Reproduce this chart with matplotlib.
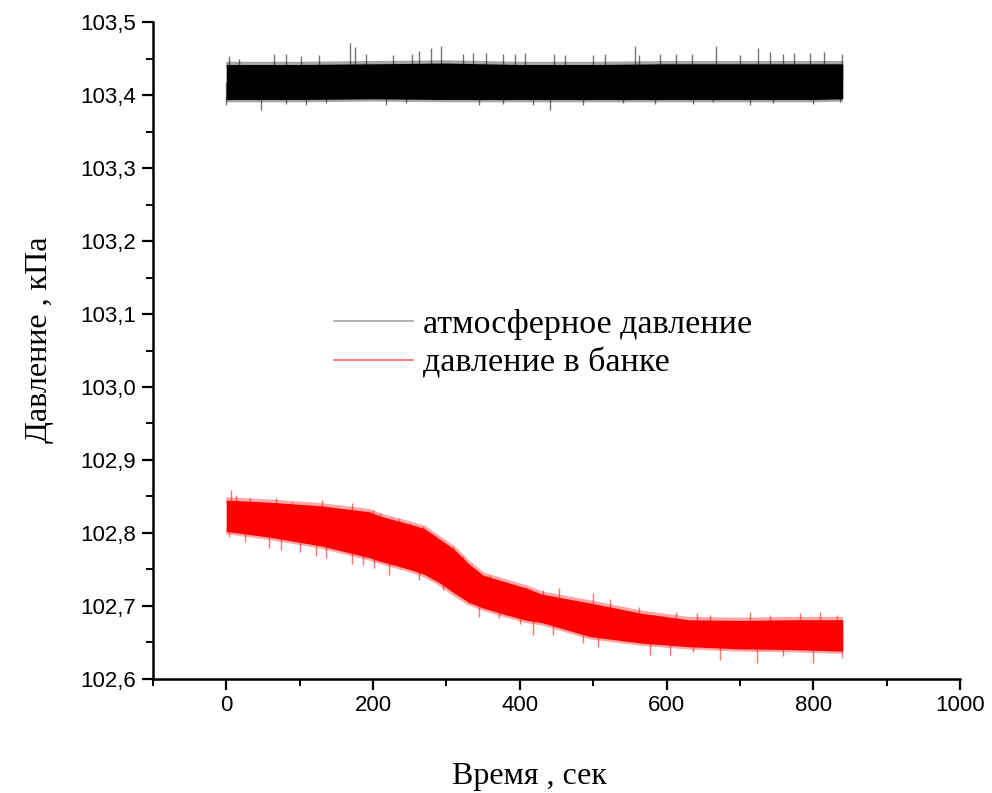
import numpy as np
import matplotlib.pyplot as plt
from matplotlib.lines import Line2D
from matplotlib.ticker import MultipleLocator, FuncFormatter

# atmospheric pressure: dense noise band (kPa) and its outstanding spikes
atm_t = [0, 100, 200, 300, 400, 500, 600, 700, 800, 840]
atm_upper = [103.442, 103.442, 103.443, 103.444, 103.442, 103.442, 103.443, 103.443, 103.443, 103.443]
atm_lower = [103.394, 103.394, 103.395, 103.394, 103.394, 103.394, 103.394, 103.394, 103.394, 103.395]

atm_spike_t = [4, 18, 65, 81, 102, 127, 169, 175, 191, 227, 253, 263, 279, 293, 322, 336,
               354, 377, 393, 407, 447, 461, 500, 516, 557, 563, 591, 613, 634, 667, 700,
               725, 741, 759, 773, 795, 814, 839,
               0, 47, 81, 109, 136, 218, 245, 345, 377, 418, 441, 486, 541, 584, 636,
               663, 713, 745, 800, 836]
atm_spike_v = [103.453, 103.450, 103.457, 103.456, 103.453, 103.455, 103.471, 103.466, 103.457,
               103.455, 103.457, 103.461, 103.464, 103.468, 103.457, 103.458, 103.458, 103.457,
               103.456, 103.458, 103.456, 103.455, 103.455, 103.457, 103.468, 103.455, 103.456,
               103.457, 103.456, 103.468, 103.455, 103.465, 103.459, 103.457, 103.458, 103.458,
               103.459, 103.457,
               103.386, 103.379, 103.388, 103.386, 103.389, 103.386, 103.389, 103.386, 103.388,
               103.386, 103.379, 103.386, 103.389, 103.388, 103.388, 103.391, 103.386, 103.389,
               103.388, 103.390]

# pressure in the jar
jar_t = [0, 60, 130, 195, 210, 250, 270, 290, 310, 330, 350, 380, 410, 430, 495, 565, 630,
         700, 770, 840]
jar_upper = [102.845, 102.842, 102.837, 102.829, 102.823, 102.812, 102.806, 102.792, 102.778,
             102.758, 102.742, 102.733, 102.724, 102.716, 102.704, 102.690, 102.681, 102.680,
             102.681, 102.681]
jar_lower = [102.802, 102.794, 102.782, 102.766, 102.761, 102.750, 102.743, 102.732, 102.718,
             102.705, 102.697, 102.688, 102.680, 102.677, 102.658, 102.649, 102.644, 102.641,
             102.640, 102.638]

jar_spike_t = [6, 13, 32, 68, 90, 131, 172, 200, 209, 236, 250, 268, 286, 309, 322, 359, 391,
               409, 432, 454, 500, 523, 563, 613, 641, 659, 713, 741, 782, 809, 832,
               4, 25, 59, 75, 100, 122, 136, 172, 186, 202, 222, 263, 295, 331, 345, 372,
               400, 418, 445, 486, 507, 577, 604, 636, 673, 723, 759, 800, 839]
jar_spike_v = [102.859, 102.852, 102.848, 102.848, 102.843, 102.845, 102.841, 102.832, 102.827,
               102.820, 102.813, 102.809, 102.795, 102.782, 102.768, 102.742, 102.730, 102.726,
               102.722, 102.724, 102.717, 102.709, 102.698, 102.692, 102.690, 102.688, 102.692,
               102.688, 102.690, 102.691, 102.688,
               102.795, 102.788, 102.779, 102.777, 102.774, 102.768, 102.765, 102.758, 102.756,
               102.752, 102.742, 102.736, 102.722, 102.704, 102.685, 102.683, 102.675, 102.660,
               102.660, 102.649, 102.644, 102.633, 102.633, 102.637, 102.626, 102.622, 102.631,
               102.622, 102.628]

labels = ['атмосферное давление', 'давление в банке']
colors = ['black', 'red']

fig = plt.figure(figsize=(9.92, 7.93), dpi=100)
ax = fig.add_axes([0.154, 0.144, 0.814, 0.828])


def draw_trace(t, upper, lower, spike_t, spike_v, color):
    # soft fringe along both edges of the noise band
    ax.plot(t, upper, color=color, lw=4, alpha=0.35, solid_capstyle='butt')
    ax.plot(t, lower, color=color, lw=4, alpha=0.35, solid_capstyle='butt')
    ax.fill_between(t, lower, upper, color=color, lw=0)
    mid = (np.array(upper) + np.array(lower)) / 2
    base = np.interp(spike_t, t, mid)
    ax.vlines(spike_t, base, spike_v, color=color, lw=1.0, alpha=0.55)


draw_trace(atm_t, atm_upper, atm_lower, atm_spike_t, atm_spike_v, colors[0])
draw_trace(jar_t, jar_upper, jar_lower, jar_spike_t, jar_spike_v, colors[1])

ax.set_xlim(-100, 1000)
ax.set_ylim(102.6, 103.5)
ax.xaxis.set_major_locator(MultipleLocator(200))
ax.xaxis.set_minor_locator(MultipleLocator(100))
ax.yaxis.set_major_locator(MultipleLocator(0.1))
ax.yaxis.set_minor_locator(MultipleLocator(0.05))
ax.yaxis.set_major_formatter(FuncFormatter(lambda v, p: f'{v:.1f}'.replace('.', ',')))

for side in ['top', 'right']:
    ax.spines[side].set_visible(False)
for side in ['left', 'bottom']:
    ax.spines[side].set_linewidth(1.8)

ax.tick_params(which='major', direction='out', length=8, width=1.6, labelsize=16, pad=4)
ax.tick_params(which='minor', direction='out', length=5, width=1.4)
for lbl in ax.get_xticklabels() + ax.get_yticklabels():
    lbl.set_family('Liberation Sans')

ax.set_xlabel('Время , сек', family='Liberation Serif', fontsize=23)
ax.set_ylabel('Давление , кПа', family='Liberation Serif', fontsize=23)
ax.xaxis.set_label_coords(0.467, -0.126)
ax.yaxis.set_label_coords(-0.122, 0.517)

handles = [Line2D([], [], color=colors[0], lw=1.2, alpha=0.35),
           Line2D([], [], color=colors[1], lw=1.2, alpha=0.6)]
ax.legend(handles, labels, loc='center left', bbox_to_anchor=(0.187, 0.510),
          frameon=False, handlelength=2.3, handletextpad=0.3, labelspacing=0.22,
          borderpad=0.4, prop={'family': 'Liberation Serif', 'size': 24.5})

fig.savefig('out.png', dpi=100)
